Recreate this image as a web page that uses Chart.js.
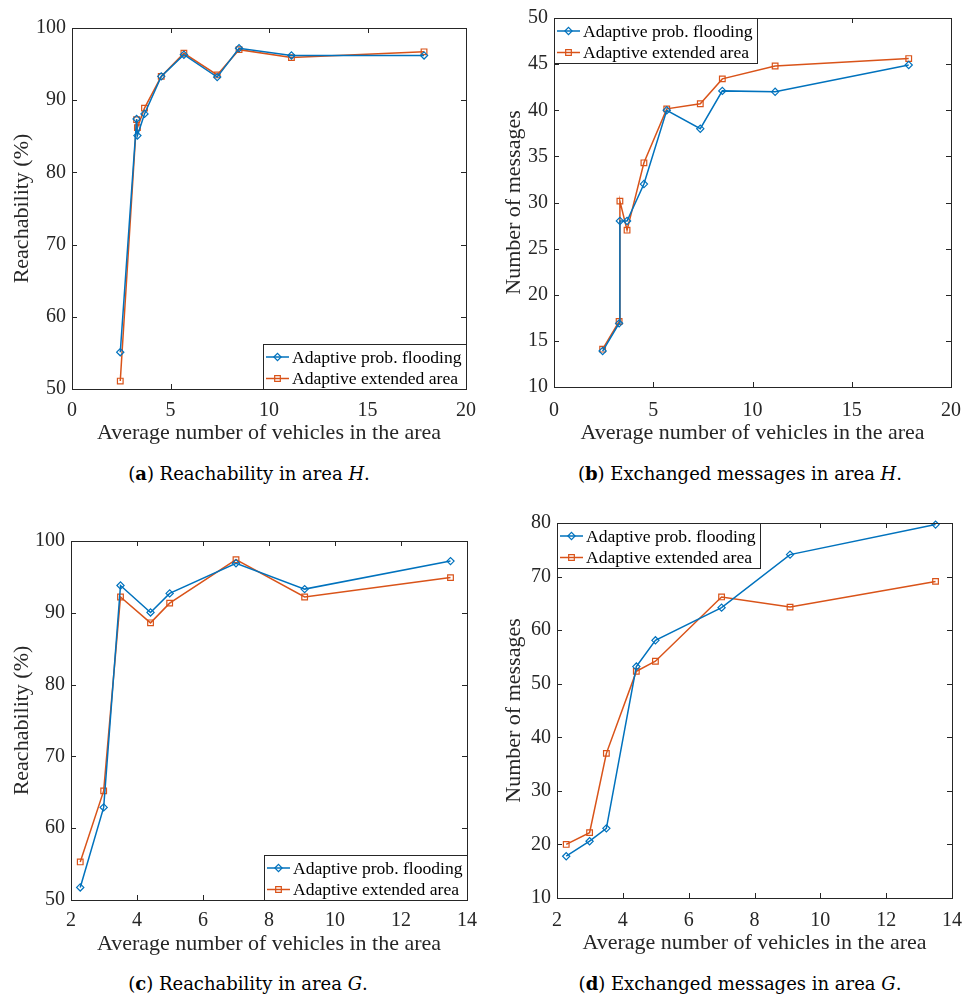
<!DOCTYPE html>
<html>
<head>
<meta charset="utf-8">
<script src="https://cdn.jsdelivr.net/npm/chart.js@4.4.1/dist/chart.umd.min.js"></script>
<style>
  body { margin: 0; background: #fff; }
  #page { position: relative; width: 973px; height: 997px; overflow: hidden; background: #fff; }
  canvas { position: absolute; }
  .caption {
    position: absolute;
    font-family: "DejaVu Serif", serif;
    font-size: 18px;
    color: #000;
    white-space: nowrap;
    transform: translateX(-50%);
  }
</style>
</head>
<body>
<div id="page">
  <canvas id="chartA" width="486" height="460" style="left:0px;top:0px"></canvas>
  <canvas id="chartB" width="487" height="460" style="left:486px;top:0px"></canvas>
  <canvas id="chartC" width="486" height="460" style="left:0px;top:500px"></canvas>
  <canvas id="chartD" width="487" height="460" style="left:486px;top:500px"></canvas>
  <div class="caption" style="left:249px;top:463px">(<b>a</b>) Reachability in area <i>H</i>.</div>
  <div class="caption" style="left:740px;top:463px">(<b>b</b>) Exchanged messages in area <i>H</i>.</div>
  <div class="caption" style="left:248px;top:973px">(<b>c</b>) Reachability in area <i>G</i>.</div>
  <div class="caption" style="left:740px;top:973px">(<b>d</b>) Exchanged messages in area <i>G</i>.</div>
</div>
<script>
// series names and axis titles
const seriesNames = ['Adaptive prob. flooding', 'Adaptive extended area']
const xTitle = 'Average number of vehicles in the area'

// area H: average number of vehicles
const xH = [2.45, 3.28, 3.32, 3.68, 4.53, 5.68, 7.37, 8.48, 11.14, 17.87]
const reachFloodH = [55.1, 87.4, 85.1, 88.1, 93.3, 96.3, 93.2, 97.2, 96.2, 96.2]
const reachExtH = [51.1, 87.3, 86.2, 88.9, 93.3, 96.5, 93.5, 97.0, 95.9, 96.7]
const msgFloodH = [13.9, 16.9, 28.0, 28.0, 32.0, 40.0, 38.0, 42.1, 42.0, 44.9]
const msgExtH = [14.1, 17.1, 30.15, 27.0, 34.3, 40.15, 40.7, 43.4, 44.8, 45.6]

// area G
const xG = [2.28, 2.99, 3.5, 4.41, 4.99, 7.0, 9.08, 13.5]
const reachFloodG = [51.75, 62.9, 93.8, 90.05, 92.7, 96.9, 93.3, 97.2]
const reachExtG = [55.3, 65.2, 92.2, 88.6, 91.35, 97.4, 92.2, 94.9]
const msgFloodG = [17.8, 20.6, 23.0, 53.2, 58.1, 64.2, 74.1, 79.7]
const msgExtG = [20.0, 22.2, 37.0, 52.3, 54.2, 66.2, 64.3, 69.1]

const blue = '#0072BD'
const orange = '#D95319'
const axisColor = '#262626'
const serif = "'Liberation Serif'"

// box with inward ticks on all four sides, like matlab
const matlabAxes = {
    id: 'matlabAxes',
    afterDatasetsDraw(chart) {
        const { ctx, chartArea: a, scales: { x, y } } = chart
        ctx.save()
        ctx.strokeStyle = axisColor
        ctx.lineWidth = 1
        ctx.beginPath()
        x.ticks.forEach(t => {
            const px = Math.round(x.getPixelForValue(t.value)) + 0.5
            ctx.moveTo(px, a.bottom); ctx.lineTo(px, a.bottom - 5)
            ctx.moveTo(px, a.top); ctx.lineTo(px, a.top + 5)
        })
        y.ticks.forEach(t => {
            const py = Math.round(y.getPixelForValue(t.value)) + 0.5
            ctx.moveTo(a.left, py); ctx.lineTo(a.left + 5, py)
            ctx.moveTo(a.right, py); ctx.lineTo(a.right - 5, py)
        })
        ctx.stroke()
        ctx.strokeRect(a.left + 0.5, a.top + 0.5, a.right - a.left, a.bottom - a.top)
        ctx.restore()
    }
}

const boxLegend = {
    id: 'boxLegend',
    afterDraw(chart, args, opts) {
        const { ctx, chartArea: a } = chart
        ctx.save()
        ctx.font = '17.6px ' + serif
        const textW = Math.max(...chart.data.datasets.map(d => ctx.measureText(d.label).width))
        const w = Math.round(textW + 33)
        const h = 45
        const left = opts.corner === 'nw' ? a.left : a.right - w
        const top = opts.corner === 'nw' ? a.top : a.bottom - h
        ctx.fillStyle = '#fff'
        ctx.fillRect(left, top, w, h)
        ctx.strokeStyle = axisColor
        ctx.lineWidth = 1
        ctx.strokeRect(left + 0.5, top + 0.5, w, h)
        chart.data.datasets.forEach((d, i) => {
            const cy = top + 13 + i * 21.5
            ctx.strokeStyle = d.borderColor
            ctx.lineWidth = 1.5
            ctx.beginPath()
            ctx.moveTo(left + 3, cy); ctx.lineTo(left + 26, cy)
            ctx.stroke()
            ctx.fillStyle = 'rgba(0,0,0,0)'
            ctx.lineWidth = 1.2
            Chart.helpers.drawPoint(ctx, {
                pointStyle: d.pointStyle, radius: d.pointRadius, borderWidth: 1.2, rotation: 0
            }, left + 14.5, cy)
            ctx.fillStyle = '#000'
            ctx.textBaseline = 'middle'
            ctx.fillText(d.label, left + 29, cy + 1)
        })
        ctx.restore()
    }
}

const makeSeries = (xs, ys, i) => ({
    label: seriesNames[i],
    data: xs.map((v, k) => ({ x: v, y: ys[k] })),
    showLine: true,
    borderColor: i === 0 ? blue : orange,
    backgroundColor: 'rgba(0,0,0,0)',
    borderWidth: 1.5,
    pointStyle: i === 0 ? 'rectRot' : 'rect',
    pointRadius: i === 0 ? 3.6 : 4,
    pointBorderWidth: 1.2,
    clip: false
})

const makeChart = (id, s) => {
    new Chart(document.getElementById(id), {
        type: 'scatter',
        data: {
            datasets: [makeSeries(s.xs, s.a, 0), makeSeries(s.xs, s.b, 1)]
        },
        plugins: [matlabAxes, boxLegend],
        options: {
            responsive: false,
            animation: false,
            events: [],
            layout: { padding: { top: s.padTop, right: s.padRight, left: 0, bottom: 0 } },
            plugins: {
                legend: { display: false },
                tooltip: { enabled: false },
                boxLegend: { corner: s.corner }
            },
            scales: {
                x: {
                    type: 'linear',
                    min: s.xMin, max: s.xMax,
                    grid: { display: false, drawTicks: false },
                    border: { display: false },
                    ticks: { stepSize: s.xStep, padding: s.xTickPad, color: axisColor, font: { family: serif, size: 20 }, maxRotation: 0 },
                    title: { display: true, text: xTitle, color: axisColor, font: { family: serif, size: 22 }, padding: { top: 0, bottom: s.xTitlePad } },
                    afterFit: sc => { sc.height = s.xHeight }
                },
                y: {
                    type: 'linear',
                    min: s.yMin, max: s.yMax,
                    grid: { display: false, drawTicks: false },
                    border: { display: false },
                    ticks: { stepSize: s.yStep, padding: 6, color: axisColor, font: { family: serif, size: 20 } },
                    title: { display: true, text: s.yTitle, color: axisColor, font: { family: serif, size: 22 }, padding: { top: s.yTitlePad, bottom: 0 } },
                    afterFit: sc => { sc.width = s.yWidth }
                }
            }
        }
    })
}

makeChart('chartA', {
    xs: xH, a: reachFloodH, b: reachExtH, corner: 'se',
    xMin: 0, xMax: 20, xStep: 5, yMin: 50, yMax: 100, yStep: 10,
    yTitle: 'Reachability (%)',
    padTop: 28, padRight: 15, yWidth: 72, xHeight: 71,
    xTickPad: 10, xTitlePad: 14, yTitlePad: 9
})
makeChart('chartB', {
    xs: xH, a: msgFloodH, b: msgExtH, corner: 'nw',
    xMin: 0, xMax: 20, xStep: 5, yMin: 10, yMax: 50, yStep: 5,
    yTitle: 'Number of messages',
    padTop: 14, padRight: 14, yWidth: 68, xHeight: 73,
    xTickPad: 12, xTitlePad: 14, yTitlePad: 15
})
makeChart('chartC', {
    xs: xG, a: reachFloodG, b: reachExtG, corner: 'se',
    xMin: 2, xMax: 14, xStep: 2, yMin: 50, yMax: 100, yStep: 10,
    yTitle: 'Reachability (%)',
    padTop: 41, padRight: 15, yWidth: 71, xHeight: 60,
    xTickPad: 9, xTitlePad: 3, yTitlePad: 9
})
makeChart('chartD', {
    xs: xG, a: msgFloodG, b: msgExtG, corner: 'nw',
    xMin: 2, xMax: 14, xStep: 2, yMin: 10, yMax: 80, yStep: 10,
    yTitle: 'Number of messages',
    padTop: 23, padRight: 10, yWidth: 71, xHeight: 62,
    xTickPad: 11, xTitlePad: 4, yTitlePad: 15
})
</script>
</body>
</html>
